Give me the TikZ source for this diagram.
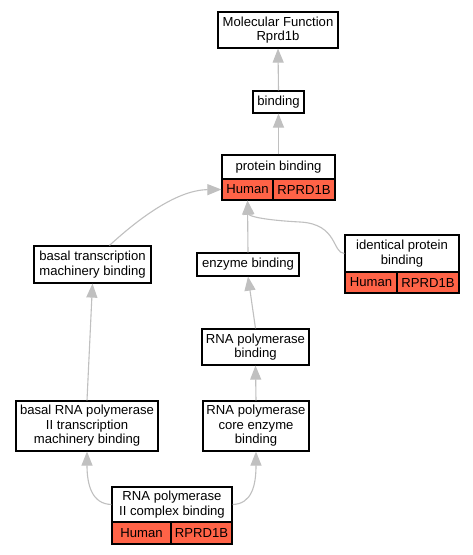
\documentclass[tikz,border=0pt]{standalone}
\usepackage{fontspec}
\setmainfont{Liberation Sans}
\usetikzlibrary{arrows.meta}
\definecolor{edgegray}{RGB}{192,192,192}
\definecolor{tomatored}{RGB}{255,99,71}
\begin{document}
\begin{tikzpicture}[x=1pt,y=-1pt,
  termbox/.style={draw=black,fill=white,line width=1.2pt,inner sep=0pt,align=center,
    font=\fontsize{13.1}{14.4}\selectfont},
  orgbox/.style={termbox,fill=tomatored},
  edge/.style={draw=edgegray,line width=1.1pt,-{Triangle[length=14pt,width=11pt]},
    color=edgegray}]
\useasboundingbox (0,0) rectangle (473,555);
\fill[white] (0,0) rectangle (473,555);
% nodes
\node[termbox,minimum width=120pt,minimum height=36pt] (mf) at (278,30) {Molecular Function\\Rprd1b};
\node[termbox,minimum width=51pt,minimum height=22pt] (bind) at (278.5,102) {binding};
\node[termbox,minimum width=113pt,minimum height=24pt] (pb) at (278.5,167) {protein binding};
\node[orgbox,minimum width=51pt,minimum height=21pt] (pbh) at (247.5,189.5) {Human};
\node[orgbox,minimum width=62pt,minimum height=21pt] (pbr) at (304,189.5) {RPRD1B};
\node[termbox,minimum width=117pt,minimum height=37pt] (btm) at (92.5,264.5) {basal transcription\\machinery binding};
\node[termbox,minimum width=102pt,minimum height=23pt] (enz) at (248,264.5) {enzyme binding};
\node[termbox,minimum width=114pt,minimum height=37pt] (ipb) at (402,253.5) {identical protein\\binding};
\node[orgbox,minimum width=52pt,minimum height=21pt] (ipbh) at (371,282.5) {Human};
\node[orgbox,minimum width=62pt,minimum height=21pt] (ipbr) at (428,282.5) {RPRD1B};
\node[termbox,minimum width=107pt,minimum height=36pt] (rpb) at (255.5,347) {RNA polymerase\\binding};
\node[termbox,minimum width=142pt,minimum height=50pt] (brp) at (87,426) {basal RNA polymerase\\II transcription\\machinery binding};
\node[termbox,minimum width=106pt,minimum height=50pt] (rce) at (256,426) {RNA polymerase\\core enzyme\\binding};
\node[termbox,minimum width=120pt,minimum height=35pt] (rp2) at (172,504.5) {RNA polymerase\\II complex binding};
\node[orgbox,minimum width=59pt,minimum height=22pt] (rp2h) at (141.5,533) {Human};
\node[orgbox,minimum width=61pt,minimum height=22pt] (rp2r) at (201.5,533) {RPRD1B};
% edges
\draw[edge] (bind.north) -- (mf.south);
\draw[edge] (pb.north) -- (bind.south);
\draw[edge] ([xshift=17pt]btm.north) .. controls (135,222) and (175,190) .. (pbh.west);
\draw[edge] (enz.north) -- (pbh.south);
\draw[edge] (ipb.west) .. controls (332,253) and (338,224) .. (300,222) .. controls (262,220) and (249,216) .. (pbh.south);
\draw[edge] (rpb.north) -- (enz.south);
\draw[edge] (rce.north) -- (rpb.south);
\draw[edge] (brp.north) -- (btm.south);
\draw[edge] (rp2.west) .. controls (92,504) and (87,485) .. (brp.south);
\draw[edge] (rp2.east) .. controls (252,504) and (256,485) .. (rce.south);
\end{tikzpicture}
\end{document}
